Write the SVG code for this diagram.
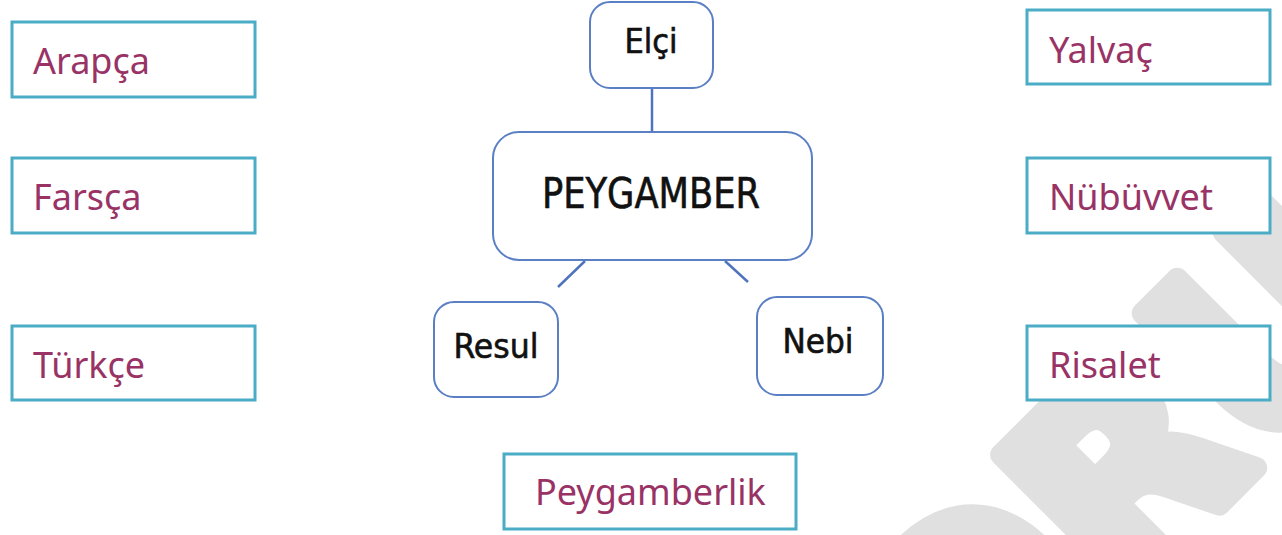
<svg xmlns="http://www.w3.org/2000/svg" width="1282" height="535" viewBox="0 0 1282 535">
<style>
.term rect{fill:#fff;stroke:#4bacc6;stroke-width:3}
.term text{font-family:"Noto Sans","Open Sans",sans-serif;font-size:36px;fill:#993366}
.mm rect{fill:#fff;stroke:#5b7fc4;stroke-width:2}
.mm text{font-family:"DejaVu Sans Condensed","DejaVu Sans",sans-serif;fill:#111;stroke:#111;stroke-width:0.6;text-anchor:middle}
.conn line{stroke:#4f74bd;stroke-width:2.5}
.wm{font-family:"DejaVu Sans",sans-serif;font-weight:bold;font-size:260px;fill:#e0e0e0;stroke:#e0e0e0;stroke-width:22;stroke-linejoin:round}
</style>
<rect width="1282" height="535" fill="#fff"/>
<text class="wm" transform="translate(962,762) rotate(-45)">ORU</text>
<g id="arapca" class="term"><rect x="12" y="22" width="243" height="75"/><text x="33" y="74">Arapça</text></g>
<g id="farsca" class="term"><rect x="12" y="158" width="243" height="75"/><text x="33" y="210">Farsça</text></g>
<g id="turkce" class="term"><rect x="12" y="326" width="243" height="74"/><text x="33" y="378">Türkçe</text></g>
<g id="yalvac" class="term"><rect x="1027" y="10" width="243" height="74"/><text x="1049" y="63">Yalvaç</text></g>
<g id="nubuvvet" class="term"><rect x="1027" y="158" width="243" height="75"/><text x="1049" y="210">Nübüvvet</text></g>
<g id="risalet" class="term"><rect x="1027" y="326" width="243" height="74"/><text x="1049" y="378">Risalet</text></g>
<g id="peygamberlik" class="term"><rect x="504" y="454" width="292" height="75"/><text x="535" y="505">Peygamberlik</text></g>
<g class="conn">
<line x1="652" y1="88" x2="652" y2="132"/>
<line x1="585" y1="261" x2="558" y2="287"/>
<line x1="725" y1="261" x2="748" y2="282"/>
</g>
<g id="elci" class="mm"><rect x="590" y="2" width="123" height="86" rx="20"/><text x="651" y="53" font-size="34">Elçi</text></g>
<g id="peygamber" class="mm"><rect x="493" y="132" width="319" height="128" rx="26"/><text x="651" y="208" font-size="43" textLength="218" lengthAdjust="spacingAndGlyphs">PEYGAMBER</text></g>
<g id="resul" class="mm"><rect x="434" y="302" width="124" height="95" rx="20"/><text x="496" y="358" font-size="34" textLength="85" lengthAdjust="spacingAndGlyphs">Resul</text></g>
<g id="nebi" class="mm"><rect x="757" y="297" width="126" height="98" rx="20"/><text x="818" y="353" font-size="34" textLength="71" lengthAdjust="spacingAndGlyphs">Nebi</text></g>
</svg>
